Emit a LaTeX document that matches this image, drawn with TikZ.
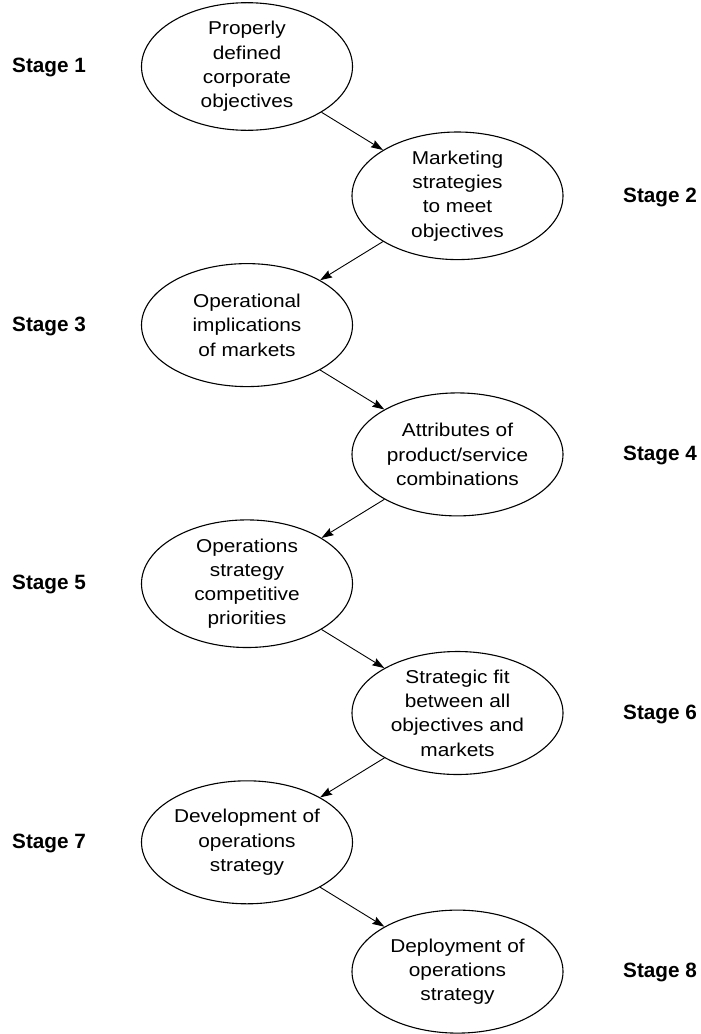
\documentclass[tikz,border=0pt]{standalone}
\usepackage{fontspec}
\setmainfont{Liberation Sans}
\newfontfamily\ellfont[FakeStretch=1.12]{Liberation Sans}
\usetikzlibrary{shapes.geometric,arrows.meta}

\begin{document}
\begin{tikzpicture}[x=1pt,y=-1pt,
  stagebox/.style={ellipse,draw,line width=1.1pt,minimum width=211pt,minimum height=123pt,
    inner sep=0pt,align=center,font=\ellfont\fontsize{18.6}{24.3}\selectfont},
  lbl/.style={font=\bfseries\fontsize{20.7}{24}\selectfont,inner sep=0pt},
  flow/.style={-{Stealth[length=12pt,width=8pt,inset=1.5pt]},line width=0.9pt}]
\useasboundingbox (0,0) rectangle (701,1034);

% process ellipses, alternating left and right
\node[stagebox] (s1) at (247,66.5)  {Properly\\defined\\corporate\\objectives};
\node[stagebox] (s2) at (457.5,195.8) {Marketing\\strategies\\to meet\\objectives};
\node[stagebox] (s3) at (247,325.1) {Operational\\implications\\of markets};
\node[stagebox] (s4) at (457.5,454.4) {Attributes of\\product/service\\combinations};
\node[stagebox] (s5) at (247,583.7) {Operations\\strategy\\competitive\\priorities};
\node[stagebox] (s6) at (457.5,713) {Strategic fit\\between all\\objectives and\\markets};
\node[stagebox] (s7) at (247,842.3) {Development of\\operations\\strategy};
\node[stagebox] (s8) at (457.5,971.6) {Deployment of\\operations\\strategy};

% stage labels
\node[lbl,anchor=base west] (l1) at (12,72.7)  {Stage 1};
\node[lbl,anchor=base west] (l2) at (623,202)  {Stage 2};
\node[lbl,anchor=base west] (l3) at (12,331.3) {Stage 3};
\node[lbl,anchor=base west] (l4) at (623,460.6) {Stage 4};
\node[lbl,anchor=base west] (l5) at (12,589.9) {Stage 5};
\node[lbl,anchor=base west] (l6) at (623,719.2) {Stage 6};
\node[lbl,anchor=base west] (l7) at (12,848.5) {Stage 7};
\node[lbl,anchor=base west] (l8) at (623,977.8) {Stage 8};

% connectors
\draw[flow] (s1) -- (s2);
\draw[flow] (s2) -- (s3);
\draw[flow] (s3) -- (s4);
\draw[flow] (s4) -- (s5);
\draw[flow] (s5) -- (s6);
\draw[flow] (s6) -- (s7);
\draw[flow] (s7) -- (s8);
\end{tikzpicture}
\end{document}
